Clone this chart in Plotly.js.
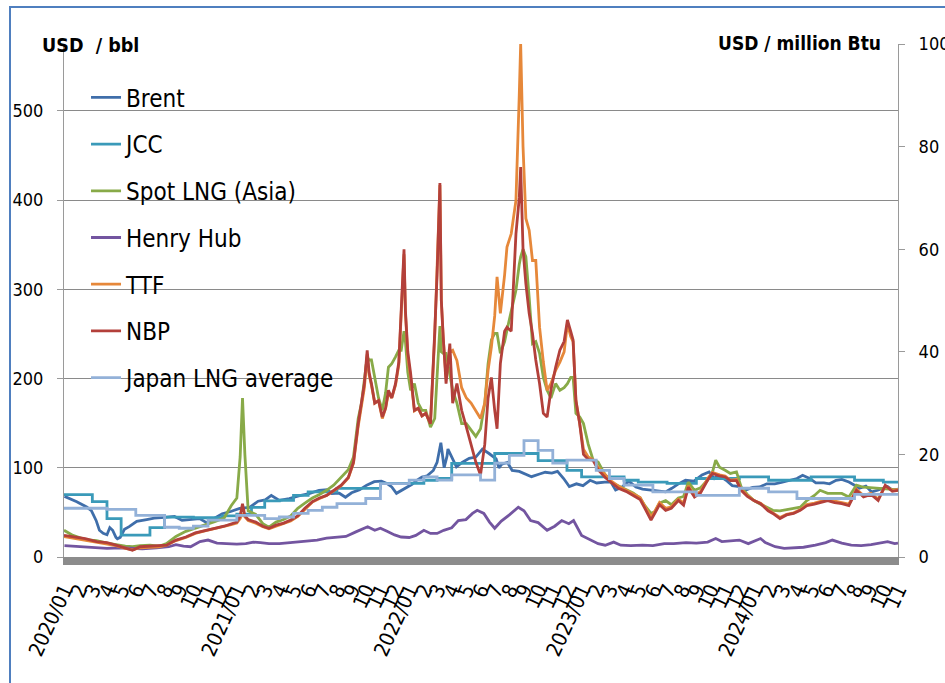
<!DOCTYPE html>
<html>
<head>
<meta charset="utf-8">
<script src="https://cdn.plot.ly/plotly-3.0.1.min.js"></script>
<style>
html,body{margin:0;padding:0;background:#fff;overflow:hidden;}
#wrap{position:relative;width:945px;height:683px;}
#frame{position:absolute;left:9px;top:6px;width:1000px;height:1000px;border-left:2px solid #4f7fbf;border-top:2px solid #4f7fbf;pointer-events:none;}
</style>
</head>
<body>
<div id="wrap"><div id="chart" style="width:945px;height:683px;"></div><div id="frame"></div></div>
<script>
// ---- monthly axis ----
const months = [
'2020-01-01','2020-02-01','2020-03-01','2020-04-01','2020-05-01','2020-06-01','2020-07-01','2020-08-01','2020-09-01','2020-10-01','2020-11-01','2020-12-01',
'2021-01-01','2021-02-01','2021-03-01','2021-04-01','2021-05-01','2021-06-01','2021-07-01','2021-08-01','2021-09-01','2021-10-01','2021-11-01','2021-12-01',
'2022-01-01','2022-02-01','2022-03-01','2022-04-01','2022-05-01','2022-06-01','2022-07-01','2022-08-01','2022-09-01','2022-10-01','2022-11-01','2022-12-01',
'2023-01-01','2023-02-01','2023-03-01','2023-04-01','2023-05-01','2023-06-01','2023-07-01','2023-08-01','2023-09-01','2023-10-01','2023-11-01','2023-12-01',
'2024-01-01','2024-02-01','2024-03-01','2024-04-01','2024-05-01','2024-06-01','2024-07-01','2024-08-01','2024-09-01','2024-10-01','2024-11-01'];
const monthLabels = [
'2020/01','2','3','4','5','6','7','8','9','10','11','12',
'2021/01','2','3','4','5','6','7','8','9','10','11','12',
'2022/01','2','3','4','5','6','7','8','9','10','11','12',
'2023/01','2','3','4','5','6','7','8','9','10','11','12',
'2024/01','2','3','4','5','6','7','8','9','10','11'];
const leftTicks = [0,100,200,300,400,500];
const rightTicks = [0,20,40,60,80,100];

// ---- JCC (USD/bbl, monthly) ----
const jcc = [
70,70,62,43,24.5,24.5,33,44.8,44.8,44,44,46,
48,55.6,63,63.6,69,72.9,72.9,77,77,77,82.6,82.6,
82.6,86,88,105,105,105,116,116,116,108,108,97,
89.7,89.7,89.7,86,84,84,82.6,82.6,88,88,88,89.7,
89.7,86,86,86,89.7,89.7,89.7,86,86,84,84];

// ---- Japan LNG average (USD/MMBtu, monthly) ----
const japanLng = [
9.5,9.5,9.5,9.3,9.3,8.1,8.1,5.8,5.6,6.0,7.2,7.2,
8.1,8.1,7.5,7.8,8.5,9.1,9.7,10.4,10.4,11.4,14.3,14.3,
15,15.6,15,16,16,15,18.3,19.8,22.7,20.8,18.3,18.9,
18.9,16.9,15.3,14,14,12.7,12.7,12.7,12,12,12,13.4,
13.4,12.7,12.7,11.4,11.4,11.4,11.4,12.2,12.2,12.2,12.2];

// ---- Brent (USD/bbl) ----
const brentDates = [
'2020-01-02','2020-01-28','2020-02-18','2020-02-28','2020-03-09','2020-03-16','2020-03-24','2020-04-01','2020-04-07','2020-04-13','2020-04-20','2020-04-23','2020-04-29',
'2020-05-08','2020-05-18','2020-06-03','2020-06-24','2020-07-10','2020-08-01','2020-08-22','2020-09-07','2020-09-23','2020-10-14','2020-10-29','2020-11-15','2020-12-01','2020-12-19',
'2021-01-07','2021-01-28','2021-02-15','2021-03-02','2021-03-15','2021-04-01','2021-04-22','2021-05-12','2021-06-03','2021-06-24','2021-07-11','2021-07-21','2021-08-06','2021-08-19',
'2021-09-01','2021-09-18','2021-10-03','2021-10-19','2021-11-03','2021-11-16','2021-11-25','2021-12-05','2021-12-16','2021-12-27',
'2022-01-07','2022-01-17','2022-01-28','2022-02-08','2022-02-21','2022-03-01','2022-03-05','2022-03-09','2022-03-16','2022-03-22','2022-03-24','2022-04-11','2022-04-23',
'2022-05-08','2022-05-22','2022-06-05','2022-06-19','2022-07-04','2022-07-10','2022-07-16','2022-07-28','2022-08-07','2022-08-22','2022-09-06','2022-09-17',
'2022-10-04','2022-10-16','2022-10-30','2022-11-11','2022-11-24','2022-12-06','2022-12-21',
'2023-01-04','2023-01-19','2023-02-02','2023-02-19','2023-03-04','2023-03-14','2023-03-27','2023-04-11','2023-04-26','2023-05-10','2023-05-28','2023-06-14','2023-06-28',
'2023-07-11','2023-07-25','2023-08-09','2023-08-27','2023-09-13','2023-09-28','2023-10-09','2023-10-19','2023-11-03','2023-11-16','2023-12-01','2023-12-14','2023-12-29',
'2024-01-13','2024-01-28','2024-02-14','2024-02-28','2024-03-15','2024-04-01','2024-04-13','2024-04-28','2024-05-11','2024-05-28','2024-06-09','2024-06-23',
'2024-07-05','2024-07-20','2024-08-01','2024-08-11','2024-08-25','2024-09-06','2024-09-19','2024-10-01','2024-10-10','2024-10-20','2024-11-01'];
const brent = [
68,62,56,52,41,30,26.5,25,33,30,22,20.5,22,
31,34,40,42,43.5,44.5,45.5,41,42,43,38.5,44,48.5,51,
54.5,55.5,62.5,64,69,63.5,65.5,68.5,71,74.8,75.5,71,71.5,67,
72,75.5,80.5,84.5,85,82,78.5,71.4,74.5,77.5,
81.5,86,89.7,91,97,106,118,128,100,113,121,101,106,
110.6,112,121,116,110,100,104,106,97,96,92,90,
93,95,94,96,88,79,82,
80,86,83,84,84,75,78,85,78.5,76,75,74.5,73,
77,82,86,85,92,95.3,88,91.6,86,80,79,75,78,
78.5,82,82,83.5,85.5,88,91.6,88,83,83,82,86,
87,84,80.4,77,79.5,73,74.8,77,79,75,76];

// ---- Henry Hub (USD/MMBtu) ----
const hhDates = [
'2020-01-02','2020-02-01','2020-03-01','2020-04-01','2020-05-01','2020-05-20','2020-06-15','2020-07-15','2020-08-10','2020-08-25','2020-09-10','2020-09-25','2020-10-15','2020-11-01','2020-11-20','2020-12-10',
'2021-01-01','2021-01-20','2021-02-05','2021-02-20','2021-03-10','2021-04-01','2021-04-20','2021-05-12','2021-06-01','2021-06-20','2021-07-10','2021-08-01','2021-08-20','2021-09-10','2021-09-25','2021-10-05','2021-10-20','2021-11-01','2021-11-15','2021-12-01','2021-12-15',
'2022-01-01','2022-01-15','2022-02-01','2022-02-15','2022-03-01','2022-03-15','2022-04-01','2022-04-15','2022-05-01','2022-05-15','2022-05-25','2022-06-08','2022-06-20','2022-07-01','2022-07-15','2022-08-01','2022-08-20','2022-09-01','2022-09-15','2022-10-01','2022-10-20','2022-11-05','2022-11-20','2022-12-05','2022-12-15',
'2023-01-01','2023-01-20','2023-02-05','2023-02-20','2023-03-10','2023-03-25','2023-04-15','2023-05-10','2023-06-01','2023-06-25','2023-07-15','2023-08-10','2023-09-01','2023-09-25','2023-10-12','2023-10-25','2023-11-15','2023-12-01','2023-12-20',
'2024-01-15','2024-01-25','2024-02-15','2024-03-05','2024-03-25','2024-04-15','2024-05-10','2024-06-01','2024-06-15','2024-07-05','2024-07-25','2024-08-15','2024-09-05','2024-09-25','2024-10-10','2024-10-25','2024-11-01'];
const henryHub = [
2.2,2.0,1.9,1.7,1.8,1.7,1.6,1.8,2.0,2.4,2.1,2.0,3.0,3.3,2.7,2.6,
2.5,2.6,2.9,2.8,2.6,2.6,2.8,3.0,3.1,3.3,3.7,3.9,4.0,4.9,5.5,5.9,5.2,5.6,5.0,4.3,3.9,
3.8,4.2,5.2,4.6,4.6,5.2,5.7,7.1,7.3,8.5,9.1,8.5,6.8,5.6,7.0,8.2,9.7,9.0,7.1,6.7,5.2,6.0,7.1,6.5,7.1,
4.2,3.3,2.6,2.3,2.9,2.3,2.2,2.3,2.2,2.6,2.6,2.8,2.7,2.9,3.6,3.0,3.1,3.3,2.6,
3.6,2.8,2.0,1.7,1.8,1.9,2.3,2.8,3.3,2.7,2.3,2.2,2.4,2.7,3.0,2.6,2.7];

// ---- Spot LNG (Asia), TTF, NBP (USD/MMBtu) ----
const gasDates = [
'2020-01-01','2020-01-20','2020-02-15','2020-03-10','2020-04-01','2020-04-20','2020-05-10','2020-05-25','2020-06-10','2020-07-01','2020-07-20','2020-08-05','2020-08-25','2020-09-15','2020-10-05','2020-10-25','2020-11-15','2020-12-05','2020-12-20',
'2021-01-01','2021-01-08','2021-01-13','2021-01-18','2021-01-25','2021-02-10','2021-02-25','2021-03-10','2021-03-25','2021-04-10','2021-04-25','2021-05-10','2021-05-25','2021-06-10','2021-06-25','2021-07-10','2021-07-25','2021-08-10','2021-08-25',
'2021-09-05','2021-09-15','2021-09-22','2021-09-28','2021-10-04','2021-10-08','2021-10-13','2021-10-20','2021-10-28','2021-11-05','2021-11-12','2021-11-18','2021-11-25','2021-12-03','2021-12-10','2021-12-15','2021-12-21','2021-12-24','2021-12-29',
'2022-01-04','2022-01-12','2022-01-20','2022-01-28','2022-02-05','2022-02-15','2022-02-24','2022-03-01','2022-03-07','2022-03-10','2022-03-14','2022-03-20','2022-03-28','2022-04-03','2022-04-12','2022-04-22',
'2022-05-02','2022-05-12','2022-05-22','2022-06-01','2022-06-10','2022-06-17','2022-06-24','2022-07-01','2022-07-06','2022-07-13','2022-07-22','2022-07-27','2022-08-05','2022-08-15','2022-08-22','2022-08-25','2022-08-30',
'2022-09-05','2022-09-12','2022-09-19','2022-09-26','2022-10-04','2022-10-12','2022-10-20','2022-10-28','2022-11-07','2022-11-16','2022-11-25','2022-12-02','2022-12-09','2022-12-14','2022-12-20','2022-12-28',
'2023-01-05','2023-01-15','2023-01-25','2023-02-05','2023-02-20','2023-03-05','2023-03-20','2023-04-05','2023-04-20','2023-05-05','2023-05-15','2023-05-28','2023-06-05','2023-06-15','2023-06-28',
'2023-07-10','2023-07-25','2023-08-05','2023-08-15','2023-08-28','2023-09-10','2023-09-25','2023-10-05','2023-10-12','2023-10-20','2023-11-01','2023-11-12','2023-11-25','2023-12-05','2023-12-18',
'2024-01-01','2024-01-15','2024-01-31','2024-02-10','2024-02-25','2024-03-10','2024-03-25','2024-04-08','2024-04-22','2024-05-08','2024-05-20','2024-06-05','2024-06-20',
'2024-07-05','2024-07-20','2024-08-05','2024-08-20','2024-09-05','2024-09-20','2024-10-05','2024-10-20','2024-11-01'];
const spotLng = [
5.2,4.2,3.4,3.2,2.7,2.4,2.1,2.0,2.2,2.3,2.1,2.6,4.0,5.0,5.6,6.3,6.9,7.6,10.0,
11.5,19.5,31.0,20.0,9.0,8.3,6.5,5.8,6.8,7.3,8.0,9.5,10.5,11.5,12.2,13.0,14.0,15.5,17.0,
19.5,27.0,30.0,35.0,39.0,38.4,38.4,35.0,31.0,28.6,32.0,37.0,37.7,39.0,40.3,40.3,44.0,42.0,36.0,
32.5,33.8,30.0,28.6,28.6,25.3,27.0,36.0,45.0,40.0,39.7,39.7,36.0,32.5,30.0,26.0,
26.0,24.7,23.5,25.0,30.0,37.7,42.3,43.6,43.6,39.7,42.0,44.2,48.1,52.0,57.0,58.5,60.0,
58.5,50.6,41.6,42.0,39.7,35.0,32.5,31.0,33.8,32.5,33.0,33.8,35.0,35.0,28.0,27.3,
26.0,22.0,19.0,18.5,16.0,14.5,13.8,13.2,12.5,11.5,10.0,8.5,8.8,10.5,11.0,
10.2,11.5,11.8,14.6,13.0,13.5,15.0,16.5,18.9,17.5,16.9,16.3,16.6,13.6,12.2,
11.0,10.3,9.5,9.1,9.0,9.3,9.5,9.7,11.0,12.0,13.0,12.4,12.4,
12.4,11.7,14.0,13.6,13.5,13.4,13.4,13.2,13.0];
const ttf = [
4.0,3.7,3.3,2.9,2.6,2.2,1.7,1.4,1.8,1.9,2.0,2.3,3.2,3.8,4.6,5.1,5.5,5.9,6.3,
6.6,7.5,8.5,7.8,7.1,6.6,5.9,5.5,6.0,6.5,7.0,7.9,9.3,10.7,11.4,12.0,12.9,13.9,15.4,
18.3,25.5,29.5,33.0,39.5,35.5,33.5,30.0,30.5,27.0,29.0,32.0,31.0,33.5,37.5,47.0,59.0,47.5,39.0,
35.0,28.5,29.0,27.5,28.0,26.0,43.0,55.0,72.5,50.0,42.5,35.0,40.0,40.3,38.3,33.0,
31.0,30.0,28.5,27.0,30.0,36.4,40.9,47.0,54.6,47.5,55.0,60.4,63.0,69.5,90.0,100.0,80.0,
66.0,63.7,57.8,57.8,44.8,38.0,32.5,33.8,36.4,38.0,40.0,45.5,43.0,42.0,30.5,26.0,
21.0,19.5,19.0,17.5,16.0,14.8,13.8,13.0,12.4,11.6,9.9,7.8,8.9,10.6,9.5,
9.8,11.3,10.5,13.9,12.0,12.8,15.3,16.5,16.2,16.0,15.8,15.0,15.1,13.2,12.0,
11.0,10.5,9.2,8.6,7.7,8.3,8.6,9.2,10.2,10.5,10.8,11.2,10.9,
10.6,10.3,13.2,12.0,12.4,11.3,13.8,13.0,13.2];
const nbp = [
4.2,3.9,3.6,3.0,2.8,2.3,1.8,1.3,2.0,2.1,2.1,2.3,3.3,3.9,4.7,5.2,5.6,6.0,6.4,
6.8,8.0,10.4,8.0,7.3,6.8,6.0,5.6,6.2,6.6,7.2,8.0,9.5,10.8,11.5,12.0,13.0,14.0,15.5,
18.5,26.0,30.0,33.8,40.3,36.0,33.8,30.0,30.5,27.3,29.0,32.5,31.0,33.8,38.0,48.0,60.0,48.0,40.0,
35.8,28.6,29.0,27.5,28.0,26.0,43.8,55.0,72.9,50.0,42.9,33.8,41.6,30.0,33.8,28.6,
25.3,22.0,18.5,16.0,22.0,31.0,35.0,28.6,25.0,37.7,44.0,44.8,44.0,63.0,70.0,76.0,60.0,
53.3,47.5,43.6,38.4,33.8,28.0,27.3,32.5,37.0,40.3,42.0,46.2,44.0,42.3,30.5,26.0,
20.0,19.0,18.9,17.0,15.5,14.5,13.4,12.8,12.0,11.2,9.5,7.2,8.5,10.2,9.1,
9.5,11.0,10.1,13.6,11.7,12.5,15.0,16.3,16.0,15.8,15.6,14.9,14.9,13.0,11.8,
11.0,10.4,9.0,8.5,7.5,8.2,8.5,9.1,10.0,10.3,10.6,11.0,10.6,
10.4,10.0,13.0,11.7,12.2,11.0,14.0,12.8,13.0];

const F = '"DejaVu Sans Condensed","DejaVu Sans",sans-serif';
const W = 2.8;
function tr(name, x, y, color, axis, shape, grp){
  return {type:'scatter', mode:'lines', name:name, x:x, y:y, yaxis:axis,
    line:{color:color, width:W, shape:shape||'linear'}, legendgroup:grp, hoverinfo:'skip'};
}
const data = [
  tr('Brent', brentDates, brent, '#3f6eaa', 'y', 'linear', 'g1'),
  tr('JCC', months, jcc, '#3a9ab9', 'y', 'hv', 'g2'),
  tr('Spot LNG (Asia)', gasDates, spotLng, '#88aa48', 'y2', 'linear', 'g3'),
  tr('Henry Hub', hhDates, henryHub, '#7355a0', 'y2', 'linear', 'g4'),
  tr('TTF', gasDates, ttf, '#e6883a', 'y2', 'linear', 'g5'),
  tr('NBP', gasDates, nbp, '#b3403a', 'y2', 'linear', 'g6'),
  tr('Japan LNG average', months, japanLng, '#93b1d8', 'y2', 'hv', 'g7')
];
const layout = {
  width:945, height:683,
  margin:{l:64, r:47, t:44, b:126},
  paper_bgcolor:'#ffffff', plot_bgcolor:'#ffffff',
  font:{family:F, color:'#000000', size:18},
  showlegend:true,
  legend:{x:0.0264, y:0.939, xanchor:'left', yanchor:'top', bgcolor:'rgba(0,0,0,0)',
    font:{family:F, size:24, color:'#000'}, tracegroupgap:12.5, traceorder:'grouped'},
  xaxis:{type:'date', range:['2020-01-01','2024-11-01'], tickmode:'array', tickvals:months, ticktext:monthLabels,
    tickangle:-65, tickfont:{family:F, size:20.5, color:'#000'}, showline:true, linecolor:'#8c8c8c', linewidth:8,
    showgrid:false, ticks:'outside', ticklen:5, tickcolor:'rgba(0,0,0,0)', zeroline:false, fixedrange:true},
  yaxis:{range:[0,575], tickmode:'array', tickvals:leftTicks, showgrid:true, gridcolor:'#8a8a8a', gridwidth:1,
    ticks:'outside', ticklen:6, tickcolor:'#9a9a9a', showline:true, linecolor:'#9a9a9a', linewidth:1, zeroline:false,
    tickfont:{family:F, size:18, color:'#000'}, ticklabelstandoff:10, fixedrange:true},
  yaxis2:{overlaying:'y', side:'right', range:[0,100], tickmode:'array', tickvals:rightTicks,
    ticks:'outside', ticklen:6, tickcolor:'#9a9a9a', showline:true, linecolor:'#9a9a9a', linewidth:1, showgrid:false, zeroline:false,
    tickfont:{family:F, size:18, color:'#000'}, ticklabelstandoff:10, fixedrange:true},
  annotations:[
    {xref:'paper', yref:'paper', x:-0.0288, y:0.998, xanchor:'left', yanchor:'middle', showarrow:false,
     text:'<b>USD\u00a0 / bbl</b>', font:{family:F, size:19.5, color:'#000'}},
    {xref:'paper', yref:'paper', x:0.982, y:1.002, xanchor:'right', yanchor:'middle', showarrow:false,
     text:'<b>USD / million Btu</b>', font:{family:F, size:19, color:'#000'}}
  ]
};
Plotly.newPlot('chart', data, layout, {displayModeBar:false, staticPlot:true});
</script>
</body>
</html>
